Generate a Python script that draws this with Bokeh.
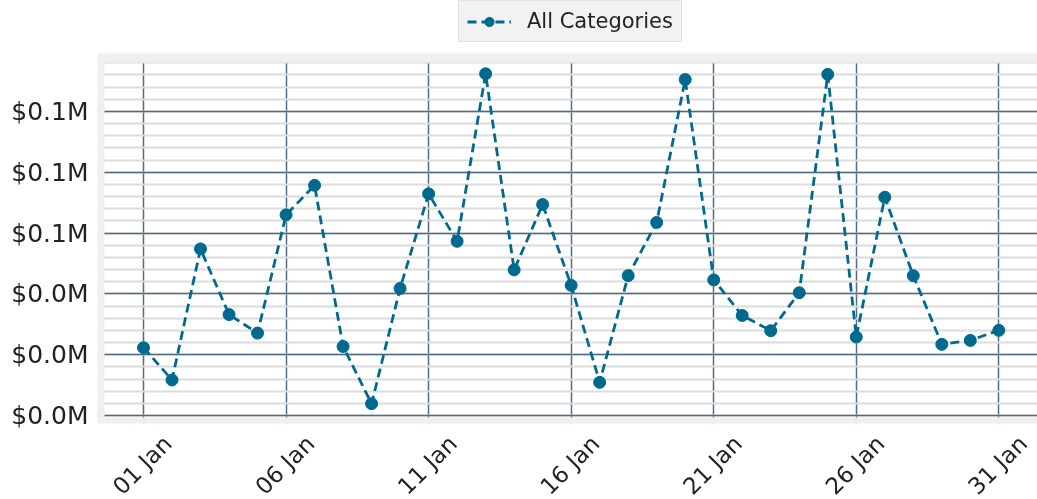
from datetime import datetime, timedelta
import math
import pandas as pd
from bokeh.plotting import figure
from bokeh.models import (Range1d, FixedTicker, SingleIntervalTicker, CustomJSTickFormatter,
                          DatetimeTickFormatter, BoxAnnotation, Legend, LegendItem,
                          ColumnDataSource)
from bokeh.embed import file_html
from bokeh.resources import INLINE

# ---- data ----
dates = [datetime(2024, 1, d) for d in range(1, 32)]
revenue = [22300, 11700, 54800, 33200, 27100, 66000, 75700, 22700, 3900, 41800,
           72900, 57300, 112400, 47900, 69400, 42800, 10900, 46000, 63500, 110500,
           44600, 32900, 27900, 40400, 112200, 25800, 71800, 46000, 23400, 24700, 28000]
series_name = "All Categories"
tick_days = [1, 6, 11, 16, 21, 26, 31]

# ---- styles ----
LINE_COLOR = "#006a8e"
MAJOR_GRID = "#4f6c85"
MINOR_GRID = "#dcdcdc"
BAND = "#efefef"
FONT = "DejaVu Sans"
TEXT = "#222222"


def ms(dt):
    return pd.Timestamp(dt).value / 1e6


day = timedelta(days=1)
SHIFT_UP = 4                         # canvas starts this many px above the page top
# frame spans from above the canvas top down to the bottom of the gray band
gx0 = dates[0] - 1.6135 * day        # left edge of gray band
gx1 = dates[0] + 31.357 * day        # right edge (canvas edge)
fy0, fy1 = -2631, 137811             # frame (bottom of band .. top)
band_top = 119063                    # top of gray band
wx0 = dates[0] - 1.368 * day         # white area left
wy0, wy1 = -660, 116100              # white area bottom / top

src = ColumnDataSource(dict(date=dates, revenue=revenue))

BOTTOM = 92
p = figure(width=1037, height=SHIFT_UP + 423 + BOTTOM, x_axis_type="datetime",
           x_range=Range1d(gx0, gx1), y_range=Range1d(fy0, fy1),
           output_backend="svg", toolbar_location=None,
           min_border_left=97, min_border_right=0, min_border_top=0, min_border_bottom=BOTTOM,
           background_fill_color="white", border_fill_color="white",
           outline_line_color=None,
           styles={"position": "fixed", "top": f"-{SHIFT_UP}px", "left": "0px"})

r_line = p.line("date", "revenue", source=src, line_color=LINE_COLOR, line_width=2.8, line_dash="9 5")
r_pts = p.scatter("date", "revenue", source=src, size=12, fill_color=LINE_COLOR, line_color=LINE_COLOR)

# white area above the plot and gray band around the plotting area
far = ms(gx1 + 2 * day)
for l, r, b, t, c in [
    (ms(gx0 - day), far, band_top - 200, fy1 + 50000, "white"),
    (ms(gx0 - day), ms(wx0), fy0 - 50000, band_top, BAND),
    (ms(wx0), far, wy1, band_top, BAND),
    (ms(wx0), far, fy0 - 50000, wy0, BAND),
]:
    p.add_layout(BoxAnnotation(left=l, right=r, bottom=b, top=t, fill_color=c,
                               fill_alpha=1, line_color=None, level="glyph"))

tick_ms = [ms(dates[d - 1]) for d in tick_days]
# rotated labels are right-anchored in Bokeh; shift anchors so each label sits centred on its tick
label_shift = 0.85 * day
label_ms = [ms(dates[d - 1] + label_shift) for d in tick_days]

# axes
p.xaxis.ticker = FixedTicker(ticks=label_ms)
p.xaxis.formatter = DatetimeTickFormatter(days="%d %b", hours="%d %b", months="%d %b")
p.xaxis.major_label_orientation = math.pi / 4
p.yaxis.ticker = SingleIntervalTicker(interval=20000, num_minor_ticks=5)
p.yaxis.formatter = CustomJSTickFormatter(code="return '$' + (tick/1e6).toFixed(1) + 'M';")
p.yaxis.bounds = (0, 100000)
for ax in (p.xaxis, p.yaxis):
    ax.axis_line_color = None
    ax.major_tick_line_color = None
    ax.minor_tick_line_color = None
    ax.major_tick_out = 0
    ax.minor_tick_out = 0
    ax.major_label_text_font = FONT
    ax.major_label_text_color = TEXT
p.xaxis.major_label_text_font_size = "23px"
p.xaxis.major_label_standoff = 16
p.yaxis.major_label_text_font_size = "25px"
p.yaxis.major_label_standoff = 9

# grids
p.xgrid.ticker = FixedTicker(ticks=tick_ms)
p.ygrid.ticker = SingleIntervalTicker(interval=20000, num_minor_ticks=5)
p.ygrid.bounds = (wy0, wy1)
p.xgrid.grid_line_color = MAJOR_GRID
p.xgrid.grid_line_width = 1.5
p.ygrid.grid_line_color = MAJOR_GRID
p.ygrid.grid_line_width = 1.5
p.ygrid.minor_grid_line_color = MINOR_GRID
p.ygrid.minor_grid_line_width = 2

legend = Legend(items=[LegendItem(label=series_name, renderers=[r_line, r_pts])],
                location=(361, 381), orientation="horizontal",
                label_text_font=FONT, label_text_font_size="21px", label_text_color=TEXT,
                glyph_width=44, glyph_height=23, label_height=23, label_standoff=16,
                padding=8, margin=0, spacing=0,
                background_fill_color="#f2f2f2", background_fill_alpha=1,
                border_line_color="#d4d4d4", border_line_width=1)
p.add_layout(legend, "center")

open("out.html", "w").write(file_html(p, INLINE))
